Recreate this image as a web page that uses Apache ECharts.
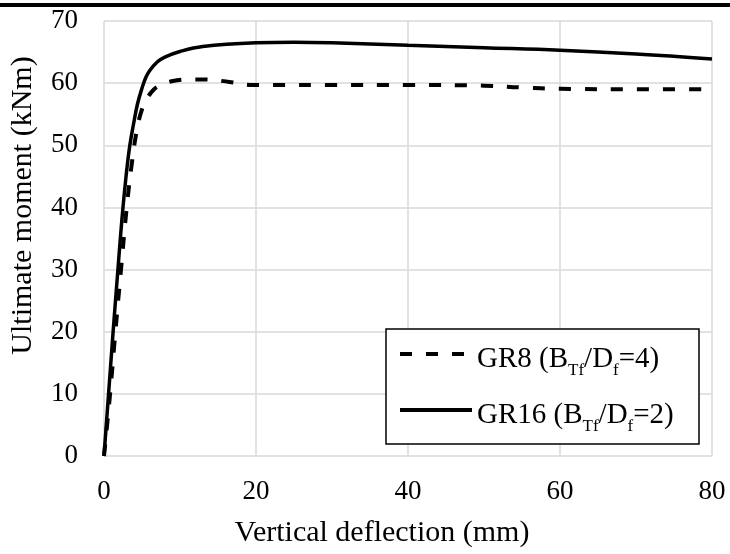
<!DOCTYPE html>
<html>
<head>
<meta charset="utf-8">
<script src="https://cdn.jsdelivr.net/npm/echarts@6/dist/echarts.min.js"></script>
<style>
html, body { margin: 0; padding: 0; background: #fff; }
#chart { width: 730px; height: 554px; }
</style>
</head>
<body>
<div id="chart"></div>
<script>
// data (x: mm, y: kNm)
var gr8X = [0, 0.8, 1.5, 2.2, 2.95, 3.6, 4.3, 5, 5.8, 6.5, 7.3, 8.9, 11, 13, 16.5, 19.6, 22, 30, 40, 50, 55, 60, 70, 80]
var gr8Y = [0, 10, 20, 29.5, 39.5, 46.5, 52.3, 55.8, 57.8, 58.9, 59.6, 60.3, 60.6, 60.6, 60.2, 59.7, 59.7, 59.7, 59.7, 59.6, 59.3, 59.1, 59.0, 59.0]
var gr16X = [0, 0.6, 1.2, 1.8, 2.35, 2.9, 3.4, 3.9, 4.4, 5, 5.5, 6, 7, 8, 10, 13, 20, 25, 30, 40, 50, 60, 70, 80]
var gr16Y = [0, 10, 20, 29.5, 38, 45, 50, 53.5, 56.6, 59.2, 60.9, 62.0, 63.4, 64.2, 65.1, 65.9, 66.5, 66.6, 66.5, 66.1, 65.7, 65.3, 64.7, 63.9]
var seriesNames = ['GR8', 'GR16']
var legendLabels = {
    GR8: '{a|GR8 (B}{b|Tf}{a|/D}{b|f}{a|=4)}',
    GR16: '{a|GR16 (B}{b|Tf}{a|/D}{b|f}{a|=2)}'
}
var xTitle = 'Vertical deflection (mm)'
var yTitle = 'Ultimate moment (kNm)'

function pairs (xs, ys) {
    return xs.map(function (x, i) { return [x, ys[i]] })
}

var font = 'Liberation Serif'
var chart = echarts.init(document.getElementById('chart'))
chart.setOption({
    animation: false,
    backgroundColor: '#fff',
    grid: {
        left: 104,
        right: 18,
        top: 21,
        bottom: 98
    },
    graphic: [
        // legend box
        {
            type: 'rect',
            z: 3,
            shape: { x: 386, y: 329, width: 313, height: 115 },
            style: { fill: '#fff', stroke: '#000', lineWidth: 1.5 }
        },
        // black rule along the top edge
        {
            type: 'rect',
            z: 3,
            shape: { x: 0, y: 3, width: 730, height: 4 },
            style: { fill: '#000' }
        }
    ],
    legend: {
        orient: 'vertical',
        left: 398,
        top: 339,
        padding: 0,
        z: 5,
        itemWidth: 72,
        itemHeight: 14,
        itemGap: 16,
        data: seriesNames,
        itemStyle: { opacity: 0 },
        lineStyle: { width: 4 },
        formatter: function (name) { return legendLabels[name] },
        textStyle: {
            color: '#000',
            fontFamily: font,
            rich: {
                a: { fontSize: 29, fontFamily: font, color: '#000', lineHeight: 30, verticalAlign: 'top', padding: [6, 0, 0, 0] },
                b: { fontSize: 17, fontFamily: font, color: '#000', lineHeight: 17, verticalAlign: 'top', padding: [23, 0, 0, 0] }
            }
        }
    },
    xAxis: {
        type: 'value',
        min: 0,
        max: 80,
        interval: 20,
        name: xTitle,
        nameLocation: 'middle',
        nameGap: 62,
        nameTextStyle: { fontFamily: font, fontSize: 30, color: '#000', padding: [0, 52, 0, 0] },
        axisLine: { show: false },
        axisTick: { show: false },
        axisLabel: { fontFamily: font, fontSize: 27, color: '#000', margin: 22 },
        splitLine: { show: true, lineStyle: { color: '#d9d9d9', width: 1.5 } }
    },
    yAxis: {
        type: 'value',
        min: 0,
        max: 70,
        interval: 10,
        name: yTitle,
        nameLocation: 'middle',
        nameGap: 66,
        nameTextStyle: { fontFamily: font, fontSize: 30, color: '#000', padding: [0, 0, 0, 66] },
        axisLine: { show: false },
        axisTick: { show: false },
        axisLabel: { fontFamily: font, fontSize: 27, color: '#000', margin: 26 },
        splitLine: { show: true, lineStyle: { color: '#d9d9d9', width: 1.5 } }
    },
    series: [
        {
            name: 'GR8',
            type: 'line',
            smooth: 0.4,
            symbol: 'none',
            data: pairs(gr8X, gr8Y),
            lineStyle: { color: '#000', width: 4, type: [12, 14] },
            itemStyle: { color: '#000' }
        },
        {
            name: 'GR16',
            type: 'line',
            smooth: 0.4,
            symbol: 'none',
            data: pairs(gr16X, gr16Y),
            lineStyle: { color: '#000', width: 3.5, type: 'solid' },
            itemStyle: { color: '#000' }
        }
    ]
})
</script>
</body>
</html>
